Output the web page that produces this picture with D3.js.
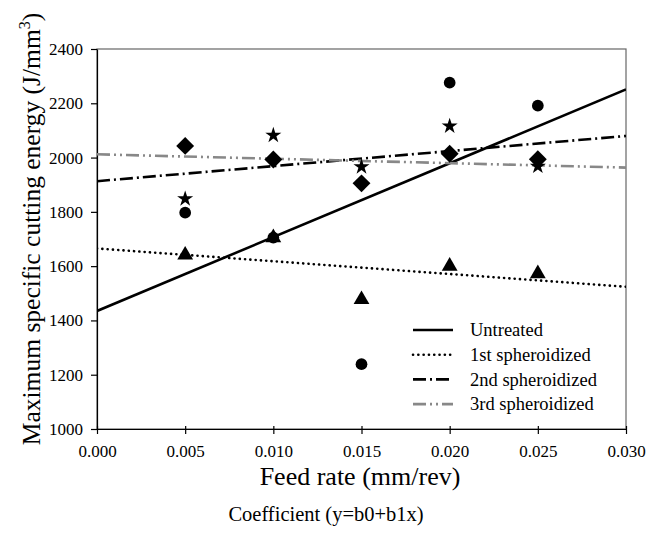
<!DOCTYPE html>
<html>
<head>
<meta charset="utf-8">
<script src="https://cdn.jsdelivr.net/npm/d3@7"></script>
<style>
  body { margin: 0; background: #fff; }
  svg text { font-family: "Liberation Serif", "Times New Roman", serif; fill: #000; }
</style>
</head>
<body>
<svg id="chart" width="662" height="533"></svg>
<script>
// feed rates at which measurements were taken
var feedRates = [0.005, 0.010, 0.015, 0.020, 0.025];

// measured max specific cutting energy (J/mm^3)
var untreated = [1797, 1705, 1239, 2276, 2191];
var first = [1641, 1705, 1477, 1600, 1572];
var second = [1848, 2082, 1966, 2116, 1968];
var third = [2043, 1993, 1905, 2014, 1994];

// linear fit coefficients y = b0 + b1 x
var seriesNames = ['Untreated', '1st spheroidized', '2nd spheroidized', '3rd spheroidized'];
var b0 = [1435, 1665, 1913, 2012];
var b1 = [27200, -4700, 5550, -1630];

var xTicks = [0, 0.005, 0.010, 0.015, 0.020, 0.025, 0.030];
var yTicks = [1000, 1200, 1400, 1600, 1800, 2000, 2200, 2400];

var svg = d3.select('#chart');
// note: 'top' is a window global, so use other names
var plotL = 97, plotR = 626, plotT = 49, plotB = 429;

var x = d3.scaleLinear().domain([0, 0.030]).range([plotL, plotR]);
var y = d3.scaleLinear().domain([1000, 2400]).range([plotB, plotT]);

// frame (top/right are a lighter grey in the original)
svg.append('rect').attr('x', plotL).attr('y', plotT)
  .attr('width', plotR - plotL).attr('height', plotB - plotT)
  .attr('fill', 'none').attr('stroke', '#666').attr('stroke-width', 1.2);

// axes
var xAxis = d3.axisBottom(x).tickValues(xTicks).tickFormat(d3.format('.3f')).tickSizeInner(5).tickSizeOuter(0);
var yAxis = d3.axisLeft(y).tickValues(yTicks).tickFormat(d3.format('d')).tickSizeInner(6).tickSizeOuter(0).tickPadding(8);

var gx = svg.append('g').attr('transform', 'translate(0,' + plotB + ')').call(xAxis);
gx.selectAll('.tick line').attr('y1', -3).attr('y2', 5);
gx.selectAll('.tick text').attr('y', 28).attr('dy', null);
var gy = svg.append('g').attr('transform', 'translate(' + plotL + ',0)').call(yAxis);

[gx, gy].forEach(function (g) {
  g.attr('font-family', null).attr('font-size', null);
  g.select('.domain').attr('stroke', '#000').attr('stroke-width', 1.2);
  g.selectAll('.tick line').attr('stroke', '#000').attr('stroke-width', 1.2);
  g.selectAll('.tick text').style('font-size', '17px');
});

// fitted lines
var lineStyles = [
  { color: '#000', dash: null, cap: 'butt' },
  { color: '#000', dash: '0.1,5.2', cap: 'round' },
  { color: '#000', dash: '13,4,2,4', cap: 'butt' },
  { color: '#888', dash: '13,4,2,4,2,4', cap: 'butt' }
];

svg.append('clipPath').attr('id', 'plotclip').append('rect')
  .attr('x', plotL).attr('y', plotT).attr('width', plotR - plotL).attr('height', plotB - plotT);

var lineG = svg.append('g').attr('clip-path', 'url(#plotclip)');
seriesNames.forEach(function (name, i) {
  var pts = [0, 0.030].map(function (f) { return [f, b0[i] + b1[i] * f]; });
  var st = lineStyles[i];
  lineG.append('path')
    .attr('d', d3.line().x(function (d) { return x(d[0]); }).y(function (d) { return y(d[1]); })(pts))
    .attr('fill', 'none')
    .attr('stroke', st.color)
    .attr('stroke-width', 2.6)
    .attr('stroke-linecap', st.cap)
    .attr('stroke-dasharray', st.dash);
});

// data markers (diamond = square turned 45deg)
var markerSets = [
  { values: untreated, symbol: d3.symbolCircle, size: 108, rot: 0 },
  { values: first, symbol: d3.symbolTriangle, size: 108, rot: 0 },
  { values: second, symbol: d3.symbolStar, size: 80, rot: 0 },
  { values: third, symbol: d3.symbolSquare, size: 160, rot: 45 }
];
markerSets.forEach(function (m) {
  svg.append('g').selectAll('path')
    .data(m.values)
    .join('path')
    .attr('transform', function (d, i) {
      return 'translate(' + x(feedRates[i]) + ',' + y(d) + ') rotate(' + m.rot + ')';
    })
    .attr('d', d3.symbol().type(m.symbol).size(m.size))
    .attr('fill', '#000');
});

// legend
var legend = svg.append('g');
seriesNames.forEach(function (name, i) {
  var ly = 330 + i * 24.7;
  var st = lineStyles[i];
  legend.append('line')
    .attr('x1', 413).attr('x2', 453).attr('y1', ly).attr('y2', ly)
    .attr('stroke', st.color).attr('stroke-width', 2.6)
    .attr('stroke-linecap', st.cap)
    .attr('stroke-dasharray', st.dash);
  legend.append('text')
    .attr('x', 470).attr('y', ly + 6.3)
    .style('font-size', '18.5px')
    .text(name);
});

// axis titles
svg.append('text')
  .attr('x', 360).attr('y', 485)
  .attr('text-anchor', 'middle')
  .style('font-size', '26px')
  .text('Feed rate (mm/rev)');

var yt = svg.append('text')
  .attr('transform', 'translate(40,229) rotate(-90)')
  .attr('text-anchor', 'middle')
  .style('font-size', '25.5px');
yt.append('tspan').text('Maximum specific cutting energy (J/mm');
yt.append('tspan').attr('dy', -10).style('font-size', '16px').text('3');
yt.append('tspan').attr('dy', 10).text(')');

svg.append('text')
  .attr('x', 326).attr('y', 521)
  .attr('text-anchor', 'middle')
  .style('font-size', '20.5px')
  .text('Coefficient (y=b0+b1x)');
</script>
</body>
</html>
